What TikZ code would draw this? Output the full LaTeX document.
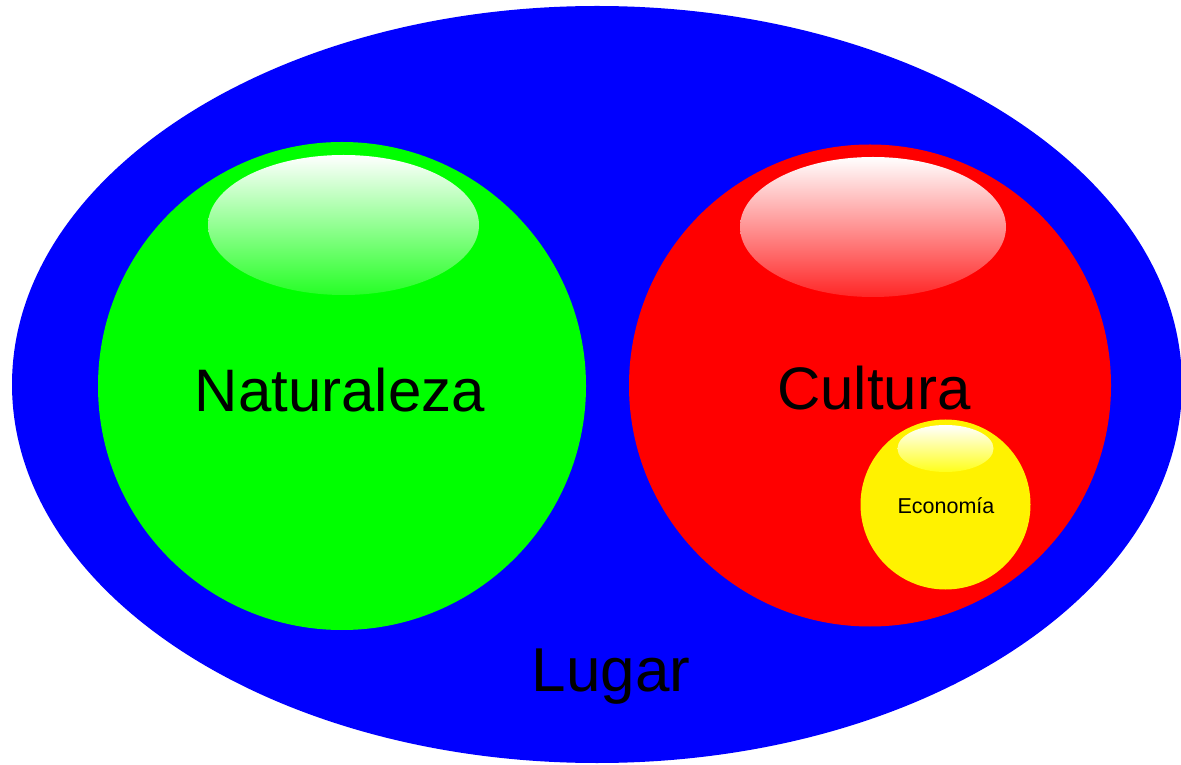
\documentclass[tikz,border=0pt]{standalone}
\usepackage{fontspec}
\setmainfont{Liberation Sans}
\tikzset{
  glanz/.style={draw=none},
  titel/.style={anchor=base, inner sep=0pt, font=\fontsize{60}{70}\selectfont}
}
\begin{document}
\begin{tikzpicture}[x=1pt,y=1pt]
        \useasboundingbox (0,0) rectangle (1181,764);
        \fill [blue] (597,379.5) ellipse [x radius=585, y radius=378.5];
        \fill [green] (342,378) circle [radius=244];
        \fill [red] (870,378.5) circle [radius=241];
        \fill [yellow] (945.5,259.5) circle [radius=85];
        \shade [glanz,top color=white,bottom color=green!85!white] (343.5,539) ellipse [x radius=135.5, y radius=70];
        \shade [glanz,top color=white,bottom color=red!85!white] (873,537) ellipse [x radius=133, y radius=70];
        \shade [glanz,top color=white,bottom color=yellow!90!white] (945.5,315.5) ellipse [x radius=48, y radius=23.5];
        \node [titel] (natur) at (340,352) {Naturaleza};
        \node [titel] (kultur) at (874,354) {Cultura};
        \node [titel,font=\fontsize{62}{72}\selectfont] (ort) at (611,73) {Lugar};
        \node [titel,font=\fontsize{21.5}{26}\selectfont] (wirtschaft) at (946,251) {Economía};
    \end{tikzpicture}
\end{document}
